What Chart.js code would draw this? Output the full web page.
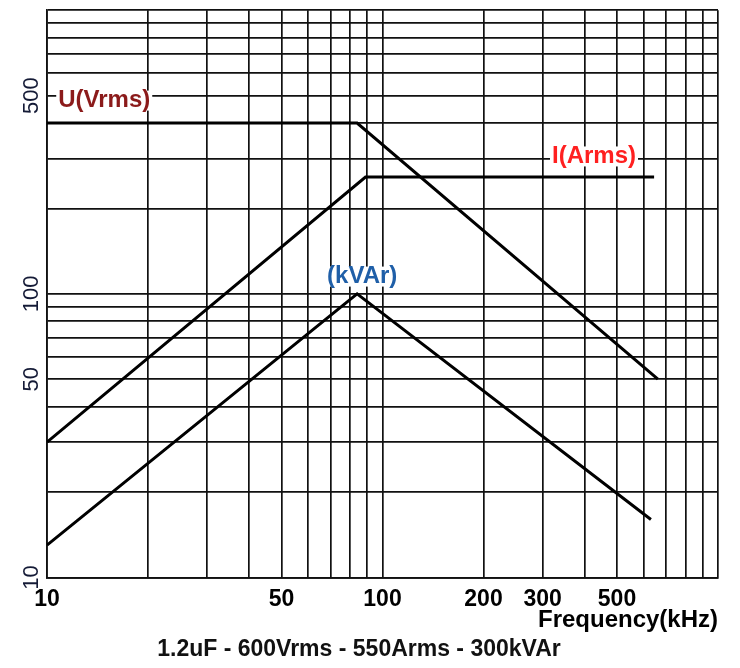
<!DOCTYPE html>
<html>
<head>
<meta charset="utf-8">
<script src="https://cdn.jsdelivr.net/npm/chart.js@4"></script>
<style>
  html, body { margin: 0; padding: 0; background: #fff; }
  #wrap { width: 740px; height: 668px; }
</style>
</head>
<body>
<div id="wrap"><canvas id="c"></canvas></div>
<script>
// values (kHz on x)
const freqU = [10, 84, 662];
const voltU = [400, 400, 50];
const freqI = [10, 89, 645];
const currI = [30, 258, 258];
const freqQ = [10, 84, 631];
const powerQ = [13, 100, 16];

const seriesNames = ["U(Vrms)", "I(Arms)", "(kVAr)"];
const xTickLabels = [10, 50, 100, 200, 300, 500];
const yTickLabels = [10, 50, 100, 500];
const gridValues = [10, 20, 30, 40, 50, 60, 70, 80, 90, 100, 200, 300, 400, 500, 600, 700, 800, 900, 1000];

// where the series names sit (data coords) and how they look
const nameAnchors = [[10.8, 480, "left"], [427, 305, "center"], [87, 115, "center"]];
const nameColors = ["#8b1a1a", "#ff2020", "#1f5fa8"];

const FONT = "'Liberation Sans', Arial, sans-serif";
const GRID = "#111";

function pts(xs, ys) {
  return xs.map((x, i) => ({ x, y: ys[i] }));
}

const seriesNamePlugin = {
  id: "seriesNames",
  afterDatasetsDraw(chart) {
    const { ctx, scales: { x, y } } = chart;
    ctx.save();
    ctx.font = "bold 24px " + FONT;
    ctx.textBaseline = "middle";
    seriesNames.forEach((name, i) => {
      const [vx, vy, align] = nameAnchors[i];
      const px = x.getPixelForValue(vx);
      const py = y.getPixelForValue(vy);
      const w = ctx.measureText(name).width;
      const left = align === "left" ? px : px - w / 2;
      ctx.fillStyle = "#fff";
      ctx.fillRect(left - 2, py - 10, w + 4, 20);
      ctx.textAlign = align;
      ctx.fillStyle = nameColors[i];
      ctx.fillText(name, px, py);
    });
    ctx.restore();
  },
};

const line = { borderColor: "#000", borderWidth: 3, pointRadius: 0, tension: 0, fill: false };

new Chart(document.getElementById("c"), {
  type: "line",
  data: {
    datasets: [
      { label: seriesNames[0], data: pts(freqU, voltU), ...line },
      { label: seriesNames[1], data: pts(freqI, currI), ...line },
      { label: seriesNames[2], data: pts(freqQ, powerQ), ...line },
    ],
  },
  plugins: [seriesNamePlugin],
  options: {
    responsive: true,
    maintainAspectRatio: false,
    animation: false,
    layout: { padding: { top: 5, right: 22, left: 0, bottom: 0 } },
    plugins: {
      legend: { display: false },
      tooltip: { enabled: false },
      title: {
        display: true,
        position: "bottom",
        text: "1.2uF - 600Vrms - 550Arms - 300kVAr",
        color: "#111",
        font: { family: FONT, size: 23, weight: "bold" },
        padding: { top: 0, bottom: 5 },
      },
    },
    scales: {
      x: {
        type: "logarithmic",
        min: 10,
        max: 1000,
        afterBuildTicks: (s) => { s.ticks = gridValues.map((v) => ({ value: v })); },
        afterFit: (s) => { s.height = 58; },
        grid: { color: GRID, lineWidth: 1.7, drawTicks: false },
        border: { color: GRID, width: 1.7 },
        ticks: {
          autoSkip: false,
          maxRotation: 0,
          padding: 8,
          color: "#000",
          font: { family: FONT, size: 23, weight: "bold" },
          callback: (v) => (xTickLabels.includes(v) ? String(v) : ""),
        },
        title: {
          display: true,
          text: "Frequency(kHz)",
          align: "end",
          color: "#000",
          font: { family: FONT, size: 24, weight: "bold" },
          padding: { top: 0, bottom: 1 },
        },
      },
      y: {
        type: "logarithmic",
        min: 10,
        max: 1000,
        afterBuildTicks: (s) => { s.ticks = gridValues.map((v) => ({ value: v })); },
        afterFit: (s) => { s.width = 47; },
        grid: { color: GRID, lineWidth: 1.7, drawTicks: false },
        border: { color: GRID, width: 1.7 },
        ticks: {
          autoSkip: false,
          minRotation: 90,
          maxRotation: 90,
          crossAlign: "center",
          padding: -3,
          color: "#141a36",
          font: { family: FONT, size: 22 },
          callback: (v) => (yTickLabels.includes(v) ? String(v) : ""),
        },
      },
    },
  },
});
</script>
</body>
</html>
